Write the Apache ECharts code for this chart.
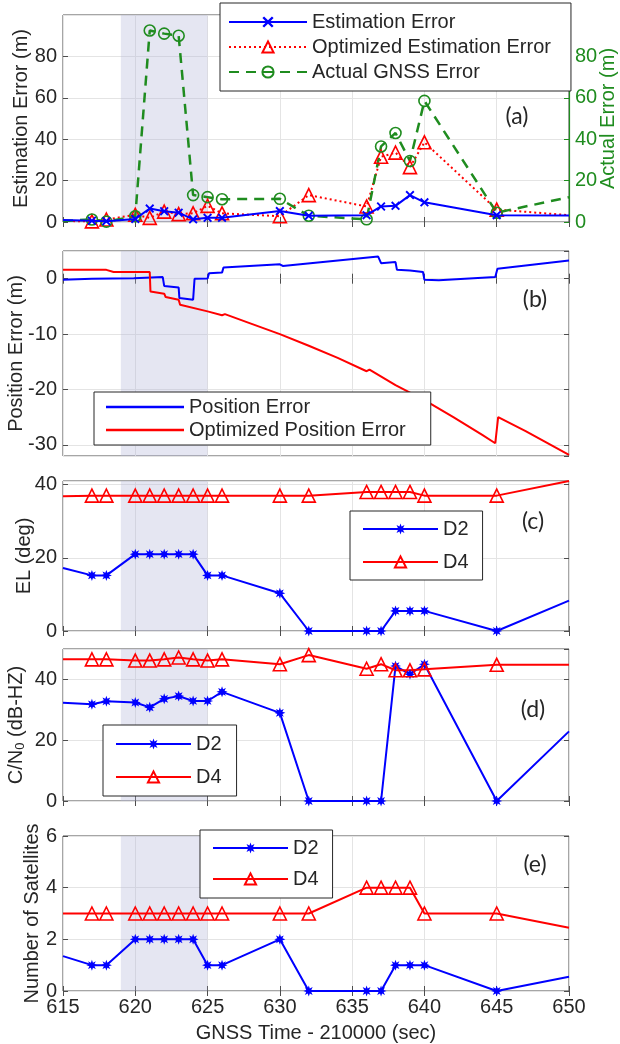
<!DOCTYPE html>
<html><head><meta charset="utf-8">
<script src="https://cdn.jsdelivr.net/npm/echarts@6/dist/echarts.min.js"></script>
<style>html,body{margin:0;padding:0;background:#fff}#c{width:620px;height:1044px}</style>
</head><body><div id="c"></div>
<script>
// ---------------- DATA ----------------
const epochs = [615,617,618,620,621,622,623,624,625,626,630,632,636,637,638,639,640,645,650];
// (a)
const estimationError = [1.0,0.6,0.4,1.5,6.5,5.2,4.5,1.3,2.0,2.0,5.3,3.0,3.3,7.5,7.8,13.0,9.5,3.3,3.2];
const optimizedEstError = [0.5,0.3,1.2,3.5,2.0,5.0,3.8,4.2,7.8,4.2,2.8,13.0,7.5,31.5,33.5,26.5,38.5,6.0,3.3];
const actualGnssError = [0.5,1.2,0.2,2.8,92.5,91.0,90.0,13.0,12.0,11.0,11.2,3.0,1.3,36.5,43.0,29.5,58.5,4.5,12.0];
// (b)
const posErrT = [615,617,619.9,620,621.9,622,623,623.05,624,624.1,625,625.1,626,626.1,630,630.2,636.8,637,638,638.1,639,639.1,639.9,640,641,644.9,645.05,650];
const posErrV = [-0.2,0,0.1,0.4,0.3,-1.3,-1.6,-3.5,-3.8,0,0.05,1.0,1.1,2.0,2.6,2.3,4.0,2.8,3.0,1.6,1.5,1.3,1.2,-0.2,-0.3,0.3,1.8,3.3];
const optPosErrT = [615,618,618.5,621,621.05,622,622.1,623,623.1,625,626,626.2,628,630,632,634,636,636.2,638,640,642,644,644.9,645.1,647,650];
const optPosErrV = [1.6,1.6,1.2,1.2,-2.3,-2.7,-3.3,-3.8,-4.7,-5.9,-6.6,-6.4,-8.1,-10.0,-12.1,-14.3,-16.7,-16.4,-19.2,-21.9,-25.0,-28.2,-29.7,-25.0,-27.5,-31.8];
// (c) EL (deg)
const elD2 = [17.2,15.2,15.2,21,21,21,21,21,15.2,15.2,10.3,0,0,0,5.5,5.5,5.5,0,8.3];
const elD4 = [36.8,37,37,37,37,37,37,37,37,37,37,37,38,38,38,38,37,37,41];
// (d) C/N0
const cnD2 = [32.3,31.8,32.8,32.4,30.8,33.6,34.5,32.9,32.9,35.9,29.0,0,0,0,44.4,41.7,45.0,0,22.9];
const cnD4 = [46.6,46.6,46.6,46.2,46.2,46.6,47.2,46.6,46.2,46.6,45.0,48.0,43.5,45.0,43.0,43.0,43.3,44.8,44.8];
// (e) Number of satellites
const satD2 = [1.35,1,1,2,2,2,2,2,1,1,2,0,0,0,1,1,1,0,0.55];
const satD4 = [3,3,3,3,3,3,3,3,3,3,3,3,4,4,4,4,3,3,2.45];
// shaded interval
const shadeStart = 619, shadeEnd = 625;
// axes
const xMin = 615, xMax = 650, xStep = 5;
const panelLabels = ['(a)','(b)','(c)','(d)','(e)'];

// ---------------- STYLE / LAYOUT ----------------
const FONT = 'Liberation Sans, Arial, sans-serif';
const TXT = '#262626', BORDER = '#4d4d4d', GRIDC = '#e4e4e4';
const BLUE = '#0000ff', RED = '#ff0000', GREEN = '#1f8c1f';
const SHADE = 'rgba(175,178,215,0.33)';
const L = 63, W = 506;
const G = [{top:15,h:207},{top:251,h:205},{top:481,h:150},{top:649,h:152},{top:836,h:155}];

const xPath = 'path://M1.5,0L5,3.5L8.5,0L10,1.5L6.5,5L10,8.5L8.5,10L5,6.5L1.5,10L0,8.5L3.5,5L0,1.5Z';
const starPath = (() => { let s = 'path://'; for (let k = 0; k < 16; k++) { const r = k % 2 ? 5 : 10; const a = k * Math.PI / 8 - Math.PI / 2; s += (k ? 'L' : 'M') + (10 + r * Math.cos(a)).toFixed(2) + ',' + (10 + r * Math.sin(a)).toFixed(2) + ' '; } return s + 'Z'; })();

function pts(xs, ys, markEnds) {
  return xs.map((x, i) => {
    const o = { value: [x, ys[i]] };
    if (markEnds && (i === 0 || i === xs.length - 1)) o.symbol = 'none';
    return o;
  });
}

const grid = G.map(g => ({ left: L, width: W, top: g.top, height: g.h, show: true, borderColor: BORDER, borderWidth: 1,
  backgroundColor: 'transparent', containLabel: false, outerBoundsMode: 'none' }));

const xAxis = [];
G.forEach((g, i) => {
  xAxis.push({
    type: 'value', gridIndex: i, min: xMin, max: xMax, interval: xStep, position: 'bottom',
    axisLine: { show: false },
    axisTick: { show: true, inside: true, length: 5, lineStyle: { color: BORDER } },
    axisLabel: { show: i === 4, margin: 6, fontSize: 20, color: TXT, fontFamily: FONT },
    splitLine: { show: true, lineStyle: { color: GRIDC, width: 1 } },
    name: i === 4 ? 'GNSS Time - 210000 (sec)' : '', nameLocation: 'middle', nameGap: 32, nameMoveOverlap: false,
    nameTextStyle: { fontSize: 20, color: TXT, fontFamily: FONT }
  });
  xAxis.push({
    type: 'value', gridIndex: i, min: xMin, max: xMax, interval: xStep, position: 'top',
    axisLine: { show: false }, axisLabel: { show: false }, splitLine: { show: false },
    axisTick: { show: true, inside: true, length: 5, lineStyle: { color: BORDER } }
  });
});

const yCfg = [
  { min: 0, max: 100, interval: 20, name: 'Estimation Error (m)', gap: 32, hideMax: true },
  { min: -32, max: 5, minInterval: 10, maxInterval: 10, name: 'Position Error (m)', gap: 37, hideMax: true, hideMin: true },
  { min: 0, max: 41, interval: 20, name: 'EL (deg)', gap: 29, hideMax: true },
  { min: 0, max: 50, interval: 20, name: 'C/N{sub|0} (dB-HZ)', gap: 36, hideMax: true },
  { min: 0, max: 6, interval: 2, name: 'Number of Satellites', gap: 21 }
];
const yAxis = [];
yCfg.forEach((c, i) => {
  const base = { type: 'value', gridIndex: i, min: c.min, max: c.max };
  if (c.interval) base.interval = c.interval;
  if (c.minInterval) { base.minInterval = c.minInterval; base.maxInterval = c.maxInterval; base.splitNumber = 4; }
  yAxis.push(Object.assign({}, base, {
    position: 'left',
    axisLine: { show: false },
    axisTick: { show: true, inside: true, length: 5, lineStyle: { color: BORDER } },
    axisLabel: { margin: 6, fontSize: 20, color: TXT, fontFamily: FONT, showMaxLabel: !c.hideMax, showMinLabel: !c.hideMin },
    splitLine: { show: true, lineStyle: { color: GRIDC, width: 1 } },
    name: c.name, nameLocation: 'middle', nameGap: c.gap, nameMoveOverlap: false,
    nameTextStyle: { fontSize: 20, color: TXT, fontFamily: FONT, rich: { sub: { fontSize: 13, verticalAlign: 'bottom', padding: [8, 0, 0, 0], fontFamily: FONT, color: TXT } } }
  }));
  if (i === 0) {
    yAxis.push(Object.assign({}, base, {
      position: 'right',
      axisLine: { show: true, lineStyle: { color: GREEN, width: 1.2 } },
      axisTick: { show: true, inside: true, length: 5, lineStyle: { color: GREEN } },
      axisLabel: { margin: 6, fontSize: 20, color: GREEN, fontFamily: FONT, showMaxLabel: false },
      splitLine: { show: false },
      name: 'Actual Error (m)', nameLocation: 'middle', nameGap: 29, nameMoveOverlap: false,
      nameTextStyle: { fontSize: 20, color: GREEN, fontFamily: FONT }
    }));
  } else {
    yAxis.push(Object.assign({}, base, {
      position: 'right', axisLine: { show: false }, axisLabel: { show: false }, splitLine: { show: false },
      axisTick: { show: true, inside: true, length: 5, lineStyle: { color: BORDER } }
    }));
  }
});
const shadeArea = { silent: true, itemStyle: { color: SHADE }, data: [[{ xAxis: shadeStart }, { xAxis: shadeEnd }]] };

const hollow = c => ({ color: 'rgba(255,255,255,0)', borderColor: c, borderWidth: 1.6 });
const series = [
  { name: 'Estimation Error', type: 'line', xAxisIndex: 0, yAxisIndex: 0, data: pts(epochs, estimationError, true),
    symbol: xPath, symbolSize: 9, itemStyle: { color: BLUE }, lineStyle: { color: BLUE, width: 2 }, z: 4, markArea: shadeArea },
  { name: 'Optimized Estimation Error', type: 'line', xAxisIndex: 0, yAxisIndex: 0, data: pts(epochs, optimizedEstError, true),
    symbol: 'triangle', symbolSize: 13, itemStyle: hollow(RED), lineStyle: { color: RED, width: 2, type: [2, 3] }, z: 3 },
  { name: 'Actual GNSS Error', type: 'line', xAxisIndex: 0, yAxisIndex: 1, data: pts(epochs, actualGnssError, true),
    symbol: 'circle', symbolSize: 11, itemStyle: hollow(GREEN), lineStyle: { color: GREEN, width: 2.5, type: [10, 7] }, z: 3 },
  { name: 'Position Error', type: 'line', xAxisIndex: 2, yAxisIndex: 2, data: pts(posErrT, posErrV, false),
    showSymbol: false, symbol: 'none', itemStyle: { color: BLUE }, lineStyle: { color: BLUE, width: 2 }, markArea: shadeArea },
  { name: 'Optimized Position Error', type: 'line', xAxisIndex: 2, yAxisIndex: 2, data: pts(optPosErrT, optPosErrV, false),
    showSymbol: false, symbol: 'none', itemStyle: { color: RED }, lineStyle: { color: RED, width: 2 } }
];
[[elD2, elD4], [cnD2, cnD4], [satD2, satD4]].forEach((pair, k) => {
  const gi = k + 2;
  series.push({ name: 'D2', type: 'line', xAxisIndex: 2 * gi, yAxisIndex: 2 * gi, data: pts(epochs, pair[0], true),
    symbol: starPath, symbolSize: 11, itemStyle: { color: BLUE }, lineStyle: { color: BLUE, width: 2 }, markArea: shadeArea });
  series.push({ name: 'D4', type: 'line', xAxisIndex: 2 * gi, yAxisIndex: 2 * gi, data: pts(epochs, pair[1], true),
    symbol: 'triangle', symbolSize: 13, itemStyle: hollow(RED), lineStyle: { color: RED, width: 2 } });
});

const legBase = { orient: 'vertical', itemWidth: 78, itemHeight: 14, backgroundColor: '#fff', borderColor: '#262626', borderWidth: 1,
  textStyle: { fontSize: 20, color: TXT, fontFamily: FONT }, selectedMode: false };
const legend = [
  Object.assign({}, legBase, { data: ['Estimation Error', 'Optimized Estimation Error', 'Actual GNSS Error'], left: 220, top: 3, itemGap: 5, padding: [9, 20, 9, 8] }),
  Object.assign({}, legBase, { data: [{ name: 'Position Error', icon: 'rect' }, { name: 'Optimized Position Error', icon: 'rect' }],
    itemHeight: 2.5, left: 94, top: 392, itemGap: 3, padding: [5, 25, 5, 12] }),
  Object.assign({}, legBase, { data: ['D2', 'D4'], left: 350, top: 511, itemWidth: 75, itemGap: 13, padding: [8, 14, 8, 12] }),
  Object.assign({}, legBase, { data: ['D2', 'D4'], left: 103, top: 725, itemWidth: 75, itemGap: 13, padding: [9, 15, 9, 12] }),
  Object.assign({}, legBase, { data: ['D2', 'D4'], left: 200, top: 830, itemWidth: 75, itemGap: 11, padding: [8, 14, 9, 12] })
];

const labelPos = [[517, 117], [535, 300], [533, 522], [533, 710], [535, 865]];
const graphic = panelLabels.map((t, i) => ({ type: 'text', x: labelPos[i][0], y: labelPos[i][1], z: 10,
  style: { text: t, fontSize: 23, fontFamily: 'Lato, Open Sans, sans-serif', fill: TXT, align: 'center', verticalAlign: 'middle' } }));

const chart = echarts.init(document.getElementById('c'), null, { renderer: 'canvas' });
chart.setOption({ animation: false, backgroundColor: '#fff', grid, xAxis, yAxis, series, legend, graphic });
</script></body></html>
